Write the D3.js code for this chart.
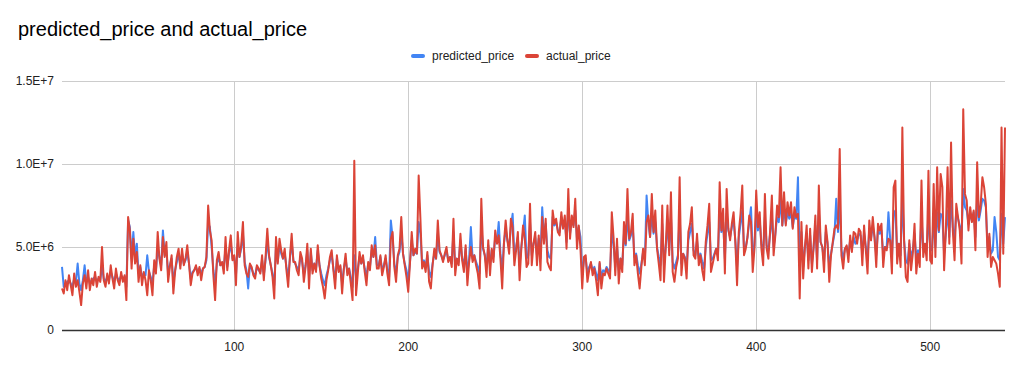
<!DOCTYPE html>
<html>
<head>
<meta charset="utf-8">
<script src="https://cdn.jsdelivr.net/npm/d3@7"></script>
<style>
  body { margin: 0; background: #fff; }
  text { font-family: "Liberation Sans", Arial, sans-serif; }
</style>
</head>
<body>
<div id="chart"></div>
<script>
// values in millions, row index starts at 1
const actualPrice = [
  2.5, 2.2, 3.0, 2.4, 3.3, 2.7, 2.1, 3.4, 2.6, 3.0,
  2.3, 1.5, 2.8, 3.3, 2.5, 3.6, 2.4, 3.1, 2.7, 3.5,
  2.6, 3.2, 2.9, 5.0, 3.0, 2.6, 3.4, 2.8, 3.9, 3.1,
  2.5, 3.7, 3.0, 2.7, 3.5, 2.9, 3.3, 1.8, 6.8, 6.0,
  3.7, 5.5, 4.0, 4.7, 2.9, 3.9, 2.7, 3.5, 3.0, 2.1,
  3.6, 3.0, 2.1, 4.2, 3.4, 5.9, 4.3, 3.6, 5.6, 4.4,
  5.3, 2.9, 3.8, 4.5, 2.2, 3.5, 4.4, 4.9, 3.7, 4.9,
  3.9, 4.3, 5.1, 4.0, 2.7, 3.4, 3.6, 3.9, 3.3, 3.8,
  3.0, 3.7, 3.8, 4.4, 7.5, 6.0, 5.4, 3.3, 1.8, 4.2,
  4.7, 3.9, 4.1, 3.4, 5.6, 3.6, 4.8, 5.7, 4.2, 4.5,
  2.7, 5.9, 4.4, 5.1, 6.5, 3.9, 3.4, 3.2, 4.0, 3.8,
  3.3, 3.1, 3.9, 3.7, 3.4, 4.5, 3.0, 4.4, 6.1, 4.5,
  3.9, 3.2, 1.9, 5.6, 4.0, 5.5, 4.8, 4.3, 4.9, 3.6,
  2.6, 4.4, 5.8, 4.1, 4.1, 3.6, 3.3, 4.7, 4.3, 2.9,
  3.8, 5.2, 2.5, 4.9, 3.4, 4.0, 3.5, 5.1, 3.9, 3.1,
  2.6, 1.9, 3.0, 3.6, 4.4, 4.8, 3.6, 2.5, 4.5, 3.5,
  3.9, 2.2, 3.7, 4.6, 3.3, 3.7, 2.8, 1.8, 10.2, 2.1,
  3.4, 4.7, 4.0, 4.5, 3.5, 2.7, 4.1, 3.6, 5.1, 4.4,
  5.1, 3.7, 3.7, 4.5, 3.3, 3.8, 4.5, 3.4, 2.7, 5.5,
  5.9, 3.8, 2.9, 4.5, 4.9, 6.8, 4.6, 3.9, 3.2, 2.3,
  4.0, 5.9, 4.5, 4.9, 4.6, 9.3, 6.7, 3.7, 4.1, 3.5,
  4.7, 2.9, 2.5, 3.9, 4.9, 4.3, 6.6, 4.8, 4.5, 4.1,
  4.6, 5.0, 4.1, 4.4, 3.8, 6.7, 3.3, 4.3, 3.9, 5.8,
  4.2, 3.5, 5.1, 2.7, 4.1, 5.0, 4.1, 4.5, 3.9, 3.4,
  2.5, 7.9, 5.0, 4.5, 3.2, 5.4, 3.3, 4.9, 4.1, 6.0,
  5.2, 5.7, 4.3, 2.5, 5.2, 6.6, 5.4, 4.6, 6.7, 6.2,
  3.9, 4.8, 5.9, 3.0, 4.9, 6.3, 5.5, 3.8, 4.0, 7.6,
  3.9, 5.2, 5.9, 3.9, 5.7, 3.6, 6.8, 5.2, 6.7, 4.1,
  3.8, 3.6, 7.2, 6.4, 6.7, 5.9, 5.7, 7.1, 6.1, 6.9,
  4.9, 8.5, 5.5, 6.9, 6.2, 7.9, 4.9, 6.3, 4.9, 2.5,
  4.4, 4.5, 2.9, 3.6, 4.1, 3.3, 3.7, 3.0, 2.1, 4.1,
  2.5, 3.4, 3.3, 3.7, 3.4, 3.1, 7.1, 5.6, 3.3, 5.5,
  2.8, 4.3, 3.5, 6.5, 5.2, 8.5, 5.5, 5.9, 7.0, 3.9,
  4.5, 3.4, 2.5, 3.8, 4.9, 3.9, 6.5, 6.9, 5.6, 8.2,
  5.9, 7.2, 4.9, 4.0, 3.0, 7.5, 2.9, 5.0, 7.5, 4.5,
  8.3, 3.5, 2.9, 3.8, 4.3, 9.2, 3.3, 4.6, 4.3, 3.1,
  5.9, 6.4, 7.4, 4.5, 4.3, 5.8, 3.9, 4.5, 3.6, 3.0,
  5.3, 6.3, 7.6, 3.5, 4.0, 4.5, 4.9, 4.2, 8.9, 6.0,
  7.3, 3.4, 8.5, 6.1, 5.4, 6.4, 7.1, 5.3, 2.7, 5.9,
  7.0, 8.7, 4.5, 4.9, 5.6, 6.9, 6.5, 3.5, 4.9, 8.4,
  6.2, 7.1, 4.9, 3.9, 8.2, 4.9, 4.3, 6.0, 8.1, 4.5,
  5.7, 7.5, 6.8, 9.8, 6.3, 8.3, 6.3, 7.7, 6.9, 7.7,
  6.1, 7.4, 6.8, 7.0, 1.9, 6.5, 3.1, 5.0, 6.3, 3.7,
  6.1, 3.5, 5.0, 6.9, 3.7, 8.7, 5.3, 5.0, 3.5, 6.3,
  5.3, 2.9, 4.5, 5.3, 6.1, 6.3, 6.1, 10.9, 4.5, 3.7,
  4.9, 5.1, 4.1, 5.7, 4.7, 5.9, 5.8, 5.2, 6.1, 5.9,
  3.9, 6.3, 4.8, 3.4, 6.6, 5.4, 6.8, 5.6, 3.8, 6.4,
  6.0, 6.4, 3.8, 5.0, 4.8, 5.5, 5.4, 3.4, 8.6, 9.0,
  4.0, 5.2, 3.8, 12.2, 5.4, 3.2, 2.9, 5.4, 3.6, 4.6,
  6.4, 3.4, 4.6, 3.8, 9.0, 4.4, 5.2, 4.2, 9.6, 4.2,
  4.0, 8.8, 4.4, 9.8, 6.0, 9.4, 8.6, 3.6, 6.0, 9.8,
  5.2, 11.3, 6.0, 4.2, 7.6, 6.8, 6.0, 4.0, 13.3, 8.2,
  7.8, 6.0, 7.4, 6.5, 7.2, 4.8, 10.1, 6.8, 7.5, 9.2,
  8.6, 7.6, 4.4, 5.8, 3.8, 4.4, 4.2, 4.0, 3.4, 2.6,
  12.2, 4.6, 12.2
];

const predictedPrice = [
  3.8, 2.6, 2.8, 2.9, 3.0, 2.8, 2.6, 3.1, 2.9, 4.0,
  2.8, 2.4, 3.0, 3.9, 2.9, 3.2, 2.8, 3.0, 3.1, 3.2,
  2.9, 3.1, 3.0, 3.8, 3.1, 2.9, 3.2, 3.0, 3.5, 3.2,
  2.9, 3.4, 3.1, 3.0, 3.3, 3.1, 3.2, 2.6, 6.6, 6.2,
  4.3, 5.9, 4.4, 5.2, 3.4, 3.8, 3.2, 3.4, 3.3, 4.5,
  3.5, 3.2, 2.8, 3.9, 3.6, 4.9, 4.4, 3.9, 6.0, 4.5,
  4.8, 3.4, 3.9, 4.3, 2.9, 3.6, 4.1, 4.6, 3.9, 4.6,
  4.0, 4.2, 4.7, 4.0, 3.1, 3.5, 3.6, 3.8, 3.5, 3.7,
  3.4, 3.7, 3.8, 4.2, 6.4, 6.2, 5.0, 3.6, 2.8, 4.0,
  4.4, 3.9, 4.0, 3.7, 5.0, 3.8, 4.6, 5.2, 4.3, 4.4,
  3.3, 5.2, 4.4, 4.9, 5.8, 4.1, 3.6, 2.5, 3.9, 3.7,
  3.4, 3.3, 3.8, 3.6, 3.5, 4.2, 3.3, 4.2, 5.4, 4.4,
  3.9, 3.4, 2.7, 5.0, 4.1, 5.1, 4.6, 4.3, 4.6, 3.8,
  3.2, 4.3, 5.3, 4.2, 4.0, 3.8, 3.6, 4.4, 4.1, 3.4,
  3.9, 4.8, 3.2, 4.7, 3.6, 4.0, 3.7, 4.8, 3.9, 3.4,
  3.0, 2.7, 3.3, 3.7, 4.2, 4.5, 3.7, 3.0, 4.3, 3.6,
  3.8, 2.8, 3.7, 4.3, 3.5, 3.7, 3.2, 2.6, 4.5, 3.2,
  3.7, 4.4, 4.0, 4.3, 3.7, 3.2, 4.0, 3.8, 4.8, 4.4,
  5.6, 3.9, 3.9, 4.4, 3.6, 3.9, 4.3, 3.6, 3.2, 6.6,
  5.6, 4.0, 3.4, 4.4, 4.7, 5.9, 4.6, 4.0, 3.6, 3.0,
  4.1, 5.4, 4.5, 4.7, 4.6, 6.5, 5.8, 4.0, 4.2, 3.8,
  4.5, 3.5, 3.2, 4.0, 4.6, 4.3, 5.8, 4.7, 4.5, 4.2,
  4.5, 4.8, 4.2, 4.4, 4.0, 5.9, 3.8, 4.3, 4.1, 5.4,
  4.3, 3.9, 4.9, 3.4, 4.3, 6.2, 4.3, 4.5, 4.1, 3.8,
  3.4, 6.3, 4.9, 4.5, 3.8, 5.1, 3.9, 4.8, 4.4, 5.6,
  5.3, 6.5, 4.6, 3.6, 5.2, 6.1, 5.4, 4.9, 6.2, 7.0,
  4.5, 5.0, 5.6, 3.9, 5.0, 5.9, 6.9, 4.3, 4.5, 6.5,
  4.5, 5.2, 5.6, 4.5, 5.5, 4.3, 7.4, 5.6, 6.4, 4.8,
  4.4, 4.3, 6.8, 6.3, 6.5, 6.0, 5.9, 6.8, 6.2, 6.6,
  5.3, 7.3, 5.8, 6.6, 6.3, 7.2, 5.5, 6.2, 5.6, 3.4,
  4.2, 4.3, 3.4, 3.8, 4.0, 3.6, 3.8, 3.4, 3.0, 4.0,
  3.2, 3.6, 3.5, 3.8, 3.6, 3.5, 5.8, 5.2, 3.8, 5.1,
  3.6, 4.3, 3.9, 5.8, 5.1, 6.9, 5.4, 5.7, 6.3, 4.4,
  4.6, 3.9, 3.4, 4.0, 4.7, 4.2, 8.1, 6.5, 5.6, 7.0,
  5.8, 6.5, 5.0, 4.4, 3.9, 6.4, 3.9, 5.0, 6.4, 4.8,
  6.8, 4.1, 3.7, 4.1, 4.5, 7.0, 4.0, 4.6, 4.4, 3.8,
  5.4, 5.9, 6.4, 4.8, 4.5, 5.4, 4.3, 4.6, 4.1, 3.7,
  5.0, 5.8, 6.5, 4.2, 4.3, 4.6, 4.9, 4.5, 7.2, 5.9,
  6.5, 4.3, 7.0, 6.0, 5.6, 6.2, 6.6, 5.4, 3.8, 5.6,
  6.4, 7.2, 4.9, 5.0, 5.6, 6.5, 7.4, 4.5, 5.1, 7.0,
  6.0, 6.6, 5.2, 4.6, 6.8, 5.1, 4.8, 5.8, 6.9, 5.0,
  5.8, 6.8, 6.5, 7.9, 6.3, 7.3, 6.4, 7.1, 6.7, 7.1,
  6.2, 6.9, 6.7, 9.2, 4.0, 5.9, 3.8, 5.0, 5.8, 4.2,
  5.7, 4.0, 5.0, 6.3, 4.2, 7.2, 5.3, 5.0, 4.1, 5.9,
  5.2, 3.8, 4.6, 5.2, 5.8, 7.9, 5.9, 7.8, 4.8, 4.3,
  4.9, 5.0, 4.5, 5.4, 4.9, 5.6, 5.2, 5.4, 5.8, 5.7,
  4.6, 5.9, 5.0, 4.3, 6.1, 5.5, 6.3, 5.6, 4.5, 6.0,
  5.8, 6.0, 4.6, 5.0, 5.0, 7.1, 5.5, 4.3, 7.0, 7.2,
  4.8, 5.2, 4.5, 8.0, 5.4, 4.2, 4.0, 5.2, 4.4, 4.8,
  5.8, 4.3, 4.8, 4.5, 6.8, 4.9, 5.2, 4.8, 7.0, 5.0,
  4.8, 6.6, 5.0, 7.1, 5.9, 7.0, 6.8, 4.6, 5.8, 7.2,
  5.6, 7.8, 6.2, 5.4, 7.2, 6.7, 6.3, 5.5, 8.5, 7.4,
  7.2, 6.4, 7.0, 6.6, 7.1, 5.6, 7.8, 6.6, 7.2, 7.9,
  7.8, 7.4, 5.0, 5.6, 4.6, 4.8, 6.8, 5.9, 4.4, 4.2,
  7.0, 5.2, 6.8
];

const seriesNames = ["predicted_price", "actual_price"];
const seriesColors = ["#4285f4", "#db4437"];
const yTicks = [0, 5e6, 1e7, 1.5e7];
const yTickLabels = ["0", "5.0E+6", "1.0E+7", "1.5E+7"];
const xTicks = [100, 200, 300, 400, 500];

const W = 1024, H = 367;
const margin = { top: 81, right: 19, bottom: 37, left: 62 };
const width = W - margin.left - margin.right,
      height = H - margin.top - margin.bottom;

const svg = d3.select("#chart").append("svg")
  .attr("width", W)
  .attr("height", H);

svg.append("text")
  .attr("x", 18)
  .attr("y", 36)
  .style("font-size", "20px")
  .attr("fill", "#000")
  .text("predicted_price and actual_price");

const g = svg.append("g")
  .attr("transform", `translate(${margin.left},${margin.top})`);

const x = d3.scaleLinear().domain([1, actualPrice.length]).range([0, width]);
const y = d3.scaleLinear().domain([0, 1.5e7]).range([height, 0]);

// horizontal grid
g.append("g")
  .selectAll("line")
  .data(yTicks.slice(1))
  .enter().append("line")
  .attr("x1", 0).attr("x2", width)
  .attr("y1", d => Math.round(y(d)) + 0.5)
  .attr("y2", d => Math.round(y(d)) + 0.5)
  .attr("stroke", "#cccccc");

// vertical grid
g.append("g")
  .selectAll("line")
  .data(xTicks)
  .enter().append("line")
  .attr("x1", d => Math.round(x(d)) + 0.5)
  .attr("x2", d => Math.round(x(d)) + 0.5)
  .attr("y1", 0).attr("y2", height)
  .attr("stroke", "#cccccc");

// y labels
g.append("g")
  .selectAll("text")
  .data(yTicks)
  .enter().append("text")
  .attr("x", -8)
  .attr("y", d => y(d))
  .attr("dy", "0.35em")
  .attr("text-anchor", "end")
  .style("font-size", "12px")
  .attr("fill", "#222")
  .text((d, i) => yTickLabels[i]);

// x labels
g.append("g")
  .selectAll("text")
  .data(xTicks)
  .enter().append("text")
  .attr("x", d => x(d))
  .attr("y", height + 21)
  .attr("text-anchor", "middle")
  .style("font-size", "12px")
  .attr("fill", "#222")
  .text(d => d);

const line = d3.line()
  .x((d, i) => x(i + 1))
  .y(d => y(d * 1e6));

[predictedPrice, actualPrice].forEach((vals, k) => {
  g.append("path")
    .datum(vals)
    .attr("fill", "none")
    .attr("stroke", seriesColors[k])
    .attr("stroke-width", 2)
    .attr("stroke-linejoin", "round")
    .attr("d", line);
});

// baseline
g.append("line")
  .attr("x1", 0).attr("x2", width)
  .attr("y1", Math.round(y(0)) + 0.5).attr("y2", Math.round(y(0)) + 0.5)
  .attr("stroke", "#333")
  .attr("stroke-width", 1.5);

// legend
const legendX = [411, 525];
const legend = svg.append("g");
seriesNames.forEach((name, k) => {
  legend.append("rect")
    .attr("x", legendX[k])
    .attr("y", 54)
    .attr("width", 14)
    .attr("height", 4)
    .attr("rx", 2)
    .attr("fill", seriesColors[k]);
  legend.append("text")
    .attr("x", legendX[k] + 21)
    .attr("y", 56)
    .attr("dy", "0.35em")
    .style("font-size", "12px")
    .attr("fill", "#222")
    .text(name);
});
</script>
</body>
</html>
